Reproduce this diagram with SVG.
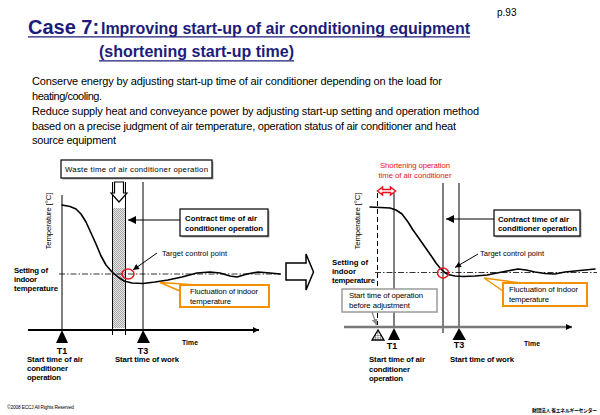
<svg xmlns="http://www.w3.org/2000/svg" width="600" height="415" viewBox="0 0 600 415">
<style>
text{font-family:"Liberation Sans",Arial,Helvetica,sans-serif;fill:#000}
.ttl{fill:#1c1c7a;font-weight:bold}
.body{font-size:11px}
.lb{font-size:7.8px}
.bd{font-size:7.8px;font-weight:bold}
.red{fill:#e8141b}
.ln{stroke:#000;stroke-width:1;fill:none}
.axis{stroke:#000;stroke-width:2;fill:none}
.dd{stroke:#000;stroke-width:0.8;stroke-dasharray:6 2 1.5 2;fill:none}
.curve{stroke:#000;stroke-width:1.6;fill:none;stroke-linejoin:round;stroke-linecap:round}
.box{fill:#fff;stroke:#000;stroke-width:1.2}
.shadow{fill:#a8a8a8}
.obox{fill:#fff;stroke:#f39200;stroke-width:2}
.gbox{fill:#fff;stroke:#9a9a9a;stroke-width:1.5}
.tri{fill:#000}
.ring{fill:none;stroke:#e8141b;stroke-width:1.5}
</style>
<defs>
<marker id="ahBig" viewBox="0 0 10 10" refX="10" refY="5" markerWidth="10" markerHeight="8" markerUnits="userSpaceOnUse" orient="auto"><path d="M0,0 L10,5 L0,10 Z" fill="#000"/></marker>
<marker id="ahSm" viewBox="0 0 10 10" refX="10" refY="5" markerWidth="8" markerHeight="6" markerUnits="userSpaceOnUse" orient="auto"><path d="M0,0 L10,5 L0,10 Z" fill="#000"/></marker>
<marker id="ahAx" viewBox="0 0 10 10" refX="10" refY="5" markerWidth="6" markerHeight="7" markerUnits="userSpaceOnUse" orient="auto"><path d="M0,0 L10,5 L0,10 Z" fill="#000"/></marker>
<marker id="ahGray" viewBox="0 0 10 10" refX="10" refY="5" markerWidth="6" markerHeight="6" markerUnits="userSpaceOnUse" orient="auto"><path d="M0,0 L10,5 L0,10 Z" fill="#8a8a8a"/></marker>
<pattern id="dots" width="2" height="2" patternUnits="userSpaceOnUse"><rect width="2" height="2" fill="#e6e6e6"/><rect width="1" height="1" fill="#a6a6a6"/><rect x="1" y="1" width="1" height="1" fill="#a6a6a6"/></pattern>
<pattern id="grid" width="2.5" height="2.5" patternUnits="userSpaceOnUse"><rect width="2.5" height="2.5" fill="#fff"/><path d="M0,0 H2.5 M0,0 V2.5" stroke="#000" stroke-width="0.6"/></pattern>
</defs>

<rect width="600" height="415" fill="#fff"/>

<g id="header">
<text x="497" y="15.5" style="font-size:10px">p.93</text>
<text x="28" y="33.5" class="ttl" style="font-size:20px">Case 7:</text>
<text x="101" y="33.5" class="ttl" style="font-size:16px" textLength="369">Improving start-up of air conditioning equipment</text>
<line x1="28" y1="36.8" x2="470" y2="36.8" stroke="#1c1c7a" stroke-width="1.3"/>
<text x="99" y="57" class="ttl" style="font-size:16px" textLength="195">(shortening start-up time)</text>
<line x1="99" y1="60.8" x2="294" y2="60.8" stroke="#1c1c7a" stroke-width="1.3"/>
</g>

<g id="description">
<text x="32" y="85" class="body" textLength="410">Conserve energy by adjusting start-up time of air conditioner depending on the load for</text>
<text x="32" y="100" class="body" textLength="70">heating/cooling.</text>
<text x="32" y="115" class="body" textLength="447">Reduce supply heat and conveyance power by adjusting start-up setting and operation method</text>
<text x="32" y="129.5" class="body" textLength="424">based on a precise judgment of air temperature, operation status of air conditioner and heat</text>
<text x="32" y="144" class="body" textLength="84">source equipment</text>
</g>

<!-- LEFT CHART -->
<g id="left-chart">
<rect x="112.5" y="208" width="13" height="120" fill="url(#dots)"/>
<line class="ln" x1="62" y1="195" x2="62" y2="330"/>
<line class="ln" x1="112.5" y1="182" x2="112.5" y2="335"/>
<line class="ln" x1="125.5" y1="182" x2="125.5" y2="335"/>
<line class="ln" x1="143" y1="182" x2="143" y2="330"/>
<line class="dd" x1="59" y1="274" x2="281" y2="274"/>
<polyline class="curve" points="62,205 70,206.5 76,209 81,214 86,222 91,233 96,244 101,256 106,265 112,272 118,277 124,281 132,283 143,283.5 155,282 168,280 182,277 197,273 210,272 220,273 230,276 237,277 247,274 258,272 270,273 280,274"/>
<ellipse class="ring" cx="128" cy="274" rx="6" ry="5"/>
<line class="axis" x1="28" y1="330" x2="259" y2="330" marker-end="url(#ahAx)"/>
<polygon class="tri" points="62,330 56,343 68,343"/>
<polygon class="tri" points="143,330 137,343 150,343"/>
<text x="48" y="221" class="lb" transform="rotate(-90 51 221)" text-anchor="middle" textLength="57" dx="3">Temperature [°C]</text>
</g>

<g id="waste-time-box">
<rect class="shadow" x="62.5" y="161.5" width="151" height="18"/>
<rect class="box" x="61" y="160" width="151" height="18"/>
<text x="136.5" y="172" class="lb" text-anchor="middle" textLength="143">Waste time of air conditioner operation</text>
</g>

<g id="waste-arrow">
<path d="M114.5,182 H123.5 V193 H127 L119,202 L111,193 H114.5 Z" fill="#fff" stroke="#000" stroke-width="1.2"/>
</g>

<g id="contract-box-left">
<rect class="shadow" x="181.5" y="210.5" width="88" height="27"/>
<rect class="box" x="180" y="209" width="88" height="27"/>
<text x="185" y="221" class="bd" textLength="72">Contract time of air</text>
<text x="185" y="231" class="bd" textLength="78">conditioner operation</text>
</g>

<g id="target-label-left">
<text x="162" y="256" class="lb" style="font-size:7.5px" textLength="65">Target control point</text>
</g>

<g id="setting-label-left">
<text x="14" y="273" class="bd" textLength="34">Setting of</text>
<text x="14" y="282" class="bd" textLength="23">indoor</text>
<text x="14" y="291" class="bd" textLength="44">temperature</text>
</g>

<g id="fluct-box-left">
<path d="M197,285 L160,282.5 L180,291" fill="#fff" stroke="#f39200" stroke-width="1.5"/>
<rect class="obox" x="180" y="285" width="89" height="22"/>
<text x="190" y="294" class="lb" textLength="68">Fluctuation of indoor</text>
<text x="190" y="303.5" class="lb" textLength="41">temperature</text>
</g>

<g id="left-axis-labels">
<text x="62" y="353.5" class="bd" style="font-size:9px" text-anchor="middle">T1</text>
<text x="143" y="353.5" class="bd" style="font-size:9px" text-anchor="middle">T3</text>
<text x="182" y="345" class="bd" style="font-size:6.8px" textLength="16">Time</text>
<text x="27" y="362" class="bd" textLength="56">Start time of air</text>
<text x="27" y="371" class="bd" textLength="41">conditioner</text>
<text x="27" y="380" class="bd" textLength="34">operation</text>
<text x="115" y="362" class="bd" textLength="64">Start time of work</text>
</g>

<g id="transition-arrow">
<path d="M286,263 H306 V254 L313.5,272 L306,290 V280 H286 Z" fill="#fff" stroke="#000" stroke-width="1.5" stroke-linejoin="miter"/>
</g>

<!-- RIGHT CHART -->
<g id="right-chart">
<line class="ln" x1="377.5" y1="193" x2="377.5" y2="325" stroke-dasharray="5 3"/>
<line class="ln" x1="394" y1="193" x2="394" y2="328"/>
<line class="ln" x1="443" y1="183" x2="443" y2="333"/>
<line class="ln" x1="459" y1="183" x2="459" y2="328"/>
<line class="dd" x1="375" y1="272.5" x2="597" y2="272.5"/>
<polyline class="curve" points="370,207 380,207.5 390,208 396,210 402,214 408,222 413,230 418,237 425,247 432,257 436,263 440,268 444,272 448,274.5 455,276 463,276.5 475,276 487,275 497,273 507,271 518,269 526,270 535,272 545,273.5 555,274 565,272 575,271 585,270 595,269"/>
<ellipse class="ring" cx="443" cy="273" rx="5.5" ry="5"/>
<line x1="344" y1="327" x2="572" y2="327" stroke="#7a7a7a" stroke-width="2.5" marker-end="url(#ahAx)"/>
<polygon points="378,330 372,340 384,340" fill="url(#grid)" stroke="#000" stroke-width="1.3"/>
<polygon class="tri" points="394,328 388,340 400,340"/>
<polygon class="tri" points="459,328 452.5,340 466,340"/>
<text x="357" y="221" class="lb" transform="rotate(-90 360 221)" text-anchor="middle" textLength="57" dx="3">Temperature [°C]</text>
</g>

<g id="shortening-label">
<text x="415" y="168" class="lb red" text-anchor="middle" textLength="70">Shortening operation</text>
<text x="415" y="177.5" class="lb red" text-anchor="middle" textLength="73">time of air conditioner</text>
<path d="M377.5,191 L382.5,187 V189.5 H390.5 V187 L395.5,191 L390.5,195 V192.5 H382.5 V195 Z" fill="#fff" stroke="#e8141b" stroke-width="1.5"/>
</g>

<g id="contract-box-right">
<rect class="shadow" x="495.5" y="211.5" width="86" height="26"/>
<rect class="box" x="494" y="210" width="86" height="26"/>
<text x="498" y="221.5" class="bd" textLength="71">Contract time of air</text>
<text x="498" y="231" class="bd" textLength="79">conditioner operation</text>
</g>

<g id="target-label-right">
<text x="480" y="256" class="lb" style="font-size:7.5px" textLength="64">Target control point</text>
</g>

<g id="setting-label-right">
<text x="332" y="264.5" class="bd" textLength="36">Setting of</text>
<text x="332" y="273.5" class="bd" textLength="24">indoor</text>
<text x="332" y="282.5" class="bd" textLength="43">temperature</text>
</g>

<g id="fluct-box-right">
<path d="M520,283 L484,278 L503,291" fill="#fff" stroke="#f39200" stroke-width="1.5"/>
<rect class="obox" x="503" y="283" width="84" height="23"/>
<text x="509" y="292" class="lb" textLength="69">Fluctuation of indoor</text>
<text x="509" y="301.5" class="lb" textLength="40">temperature</text>
</g>

<g id="before-adjust-box">
<rect class="gbox" x="342" y="289" width="95" height="23"/>
<text x="349" y="298" class="lb" textLength="74">Start time of operation</text>
<text x="349" y="307.5" class="lb" textLength="61">before adjustment</text>
</g>

<g id="right-axis-labels">
<text x="392" y="348.5" class="bd" style="font-size:9px" text-anchor="middle">T1</text>
<text x="459" y="348" class="bd" style="font-size:9px" text-anchor="middle">T3</text>
<text x="524" y="346" class="bd" style="font-size:6.8px" textLength="16">Time</text>
<text x="369" y="362" class="bd" textLength="56">Start time of air</text>
<text x="369" y="371.5" class="bd" textLength="41">conditioner</text>
<text x="369" y="381" class="bd" textLength="34">operation</text>
<text x="450" y="362" class="bd" textLength="64">Start time of work</text>
</g>

<g id="connectors">
<line x1="180" y1="220" x2="128" y2="220" stroke="#000" stroke-width="1.2" marker-end="url(#ahBig)"/>
<line x1="157" y1="253" x2="133" y2="270" stroke="#000" stroke-width="1" marker-end="url(#ahSm)"/>
<line x1="494" y1="219" x2="446" y2="219" stroke="#000" stroke-width="1.2" marker-end="url(#ahBig)"/>
<line x1="478" y1="254" x2="455" y2="267.5" stroke="#000" stroke-width="1" marker-end="url(#ahSm)"/>
<line x1="372" y1="312" x2="376.5" y2="325" stroke="#8a8a8a" stroke-width="1.3" marker-end="url(#ahGray)"/>
</g>

<g id="footer">
<text x="7" y="409" style="font-size:4.8px" textLength="67">©2008 ECCJ All Rights Reserved</text>
<text x="532" y="411.5" style="font-size:4.8px;font-family:'Liberation Sans','Noto Sans CJK JP',sans-serif;font-weight:bold" textLength="65">財団法人 省エネルギーセンター</text>
</g>
</svg>
